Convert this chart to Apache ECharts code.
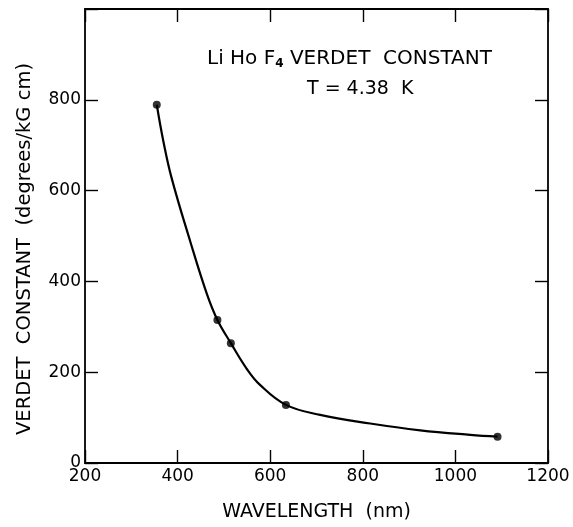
<!DOCTYPE html>
<html>
<head>
<meta charset="utf-8">
<script src="https://cdn.jsdelivr.net/npm/echarts@6/dist/echarts.min.js"></script>
<style>
html,body{margin:0;padding:0;background:#fff;}
#chart{width:573px;height:527px;}
</style>
</head>
<body>
<div id="chart"></div>
<script>
// measured data points
var wavelength = [355, 486, 515, 634, 1091];
var verdet = [789, 315, 264, 128, 58];
// fitted curve as drawn in the figure
var curveX = [355, 369, 387, 427, 463, 486, 515, 549, 578, 634, 708, 816, 924, 1032, 1091];
var curveY = [789, 710, 628, 489, 373, 315, 264, 208, 172, 128, 106, 87, 72, 62, 58];
var xTicks = [200, 400, 600, 800, 1000, 1200];
var yTicks = [0, 200, 400, 600, 800];

var points = wavelength.map(function (x, i) { return [x, verdet[i]]; });
var curve = curveX.map(function (x, i) { return [x, curveY[i]]; });

var chart = echarts.init(document.getElementById('chart'), null, {renderer: 'canvas'});
var FONT = 'DejaVu Sans';
var axisBase = {
  type: 'value',
  splitLine: {show: false},
  axisLine: {show: true, onZero: false, lineStyle: {color: '#000', width: 1.8}},
  axisTick: {show: true, inside: true, length: 13, lineStyle: {color: '#000', width: 1.4}},
  minorTick: {show: false}
};
chart.setOption({
  animation: false,
  backgroundColor: '#fff',
  grid: {left: 85, right: 25, top: 9, bottom: 56, show: false},
  xAxis: [
    Object.assign({}, axisBase, {
      position: 'bottom', min: 200, max: 1200, interval: 200,
      name: 'WAVELENGTH  (nm)', nameLocation: 'middle', nameGap: 40,
      nameTextStyle: {color: '#000', fontFamily: FONT, fontSize: 19},
      axisLabel: {color: '#000', fontFamily: FONT, fontSize: 17, margin: 5,
        formatter: function (v) { return xTicks.indexOf(v) >= 0 ? String(v) : ''; }}
    }),
    Object.assign({}, axisBase, {
      position: 'top', min: 200, max: 1200, interval: 200,
      axisLabel: {show: false}
    })
  ],
  yAxis: [
    Object.assign({}, axisBase, {
      position: 'left', min: 0, max: 1000, interval: 200,
      name: 'VERDET  CONSTANT  (degrees/kG cm)', nameLocation: 'middle', nameGap: 50,
      nameTextStyle: {color: '#000', fontFamily: FONT, fontSize: 19.5, padding: [0, 26, 0, 0]},
      axisLabel: {color: '#000', fontFamily: FONT, fontSize: 17, margin: 4,
        formatter: function (v) { return yTicks.indexOf(v) >= 0 ? String(v) : ''; }}
    }),
    Object.assign({}, axisBase, {
      position: 'right', min: 0, max: 1000, interval: 200,
      axisLabel: {show: false}
    })
  ],
  graphic: [
    {
      type: 'text', left: 207, top: 49,
      style: {
        text: '{a|Li Ho F}{s|4}{a| VERDET  CONSTANT}',
        rich: {
          a: {fontFamily: FONT, fontSize: 20, fill: '#000', color: '#000'},
          s: {fontFamily: FONT, fontSize: 12, fontWeight: 'bold', fill: '#000', color: '#000', verticalAlign: 'bottom', padding: [9, 0, 0, 0]}
        }
      }
    },
    {
      type: 'text', left: 307, top: 80,
      style: {text: 'T = 4.38  K', fontFamily: FONT, fontSize: 19, fill: '#000', font: '19px "DejaVu Sans"'}
    }
  ],
  series: [
    {
      type: 'line',
      data: curve,
      smooth: 0.4,
      showSymbol: false,
      symbol: 'none',
      lineStyle: {color: '#000', width: 2.2}
    },
    {
      type: 'scatter',
      data: points,
      symbol: 'circle',
      symbolSize: 8,
      itemStyle: {color: '#000'}
    }
  ]
});
</script>
</body>
</html>
